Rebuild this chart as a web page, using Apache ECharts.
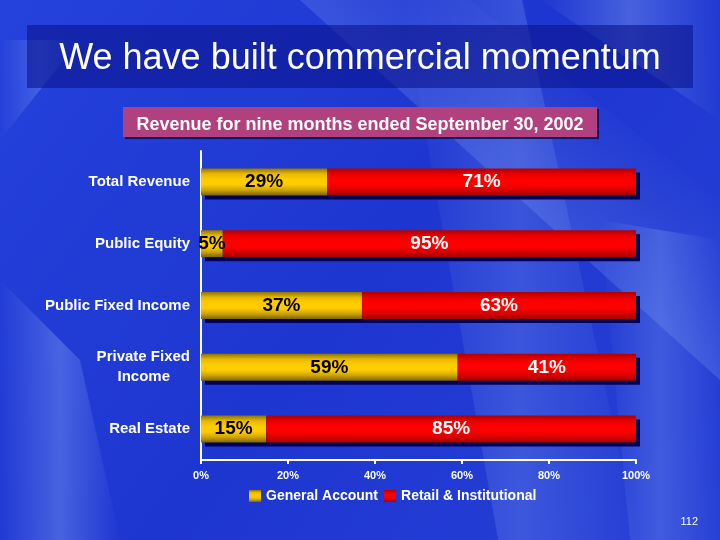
<!DOCTYPE html>
<html><head><meta charset="utf-8">
<script src="https://cdn.jsdelivr.net/npm/echarts@6/dist/echarts.min.js"></script>
<style>html,body{margin:0;padding:0;background:#1c34cc}#c{width:720px;height:540px}</style>
</head><body><div id="c"></div>
<script>
const categories = ['Total Revenue', 'Public Equity', 'Public Fixed Income', 'Private Fixed\nIncome', 'Real Estate'];
const generalAccount = [29, 5, 37, 59, 15];
const retailInstitutional = [71, 95, 63, 41, 85];
const xTicks = [0, 20, 40, 60, 80, 100];
const seriesNames = ['General Account', 'Retail & Institutional'];

const chart = echarts.init(document.getElementById('c'));
const shadow = {textShadowColor: '#000044', textShadowOffsetX: 2, textShadowOffsetY: 2, textShadowBlur: 0};
function vgrad(stops) {
  return new echarts.graphic.LinearGradient(0, 0, 0, 1, stops.map((c, i) => ({offset: i / (stops.length - 1), color: c})));
}
function band(pts, x1, y1, x2, y2, a) {
  return {type: 'polygon', z: -10, shape: {points: pts}, style: {fill: new echarts.graphic.LinearGradient(x1, y1, x2, y2, [
    {offset: 0, color: 'rgba(160,190,255,0)'}, {offset: 0.5, color: 'rgba(165,195,255,' + a + ')'}, {offset: 1, color: 'rgba(160,190,255,0)'}
  ])}};
}
chart.setOption({
  backgroundColor: new echarts.graphic.LinearGradient(0, 0, 1, 1, [
    {offset: 0, color: '#2542dc'}, {offset: 0.5, color: '#1e36d0'}, {offset: 1, color: '#2640d6'}
  ]),
  graphic: [
    band([[300, 0], [470, 0], [720, 200], [720, 380]], 0.1, 0.7, 0.6, 0.1, 0.2),
    band([[400, -10], [520, -10], [640, 550], [500, 550]], 0, 0, 1, 0, 0.2),
    band([[0, 280], [80, 360], [120, 540], [0, 540]], 0, 0, 1, 0, 0.3),
    band([[540, 0], [720, 0], [720, 120]], 0, 0, 1, 0, 0.3),
    band([[600, 220], [720, 240], [720, 540], [630, 540]], 0, 0, 1, 0, 0.22),
    band([[0, 40], [80, 40], [0, 140]], 0, 0, 1, 0, 0.25),
    {type: 'rect', z: -5, shape: {x: 27, y: 25, width: 666, height: 63}, style: {fill: 'rgba(10,20,140,0.6)'}},
    {type: 'rect', z: -5, shape: {x: 123, y: 107, width: 474, height: 30}, style: {fill: '#b0417e', shadowColor: 'rgba(0,0,60,0.7)', shadowOffsetX: 2, shadowOffsetY: 2}},
    {type: 'text', z: 10, right: 22, top: 516, style: {text: '112', fill: '#ffffff', font: '11px "Liberation Sans", Arial, sans-serif'}}
  ],
  title: [
    {text: 'We have built commercial momentum', left: 'center', top: 36,
     textStyle: Object.assign({color: '#ffffff', fontSize: 36, fontWeight: 'normal', fontFamily: '"Liberation Sans", Arial, sans-serif'}, shadow)},
    {text: 'Revenue for nine months ended September 30, 2002', left: 'center', top: 111,
     textStyle: Object.assign({color: '#ffffff', fontSize: 18, fontWeight: 'bold', fontFamily: '"Liberation Sans", Arial, sans-serif'}, shadow)}
  ],
  legend: {
    data: seriesNames, left: 244, top: 484, itemWidth: 12, itemHeight: 12, itemGap: 6,
    icon: 'rect',
    textStyle: Object.assign({color: '#ffffff', fontSize: 14, fontWeight: 'bold', fontFamily: '"Liberation Sans", Arial, sans-serif'}, shadow)
  },
  grid: {left: 201, right: 84, top: 151, bottom: 80, containLabel: false},
  xAxis: {
    type: 'value', min: 0, max: 100, interval: 20,
    axisLine: {show: true, lineStyle: {color: '#ffffff', width: 2}},
    axisTick: {show: true, length: 4, lineStyle: {color: '#ffffff', width: 2}},
    splitLine: {show: false},
    axisLabel: Object.assign({color: '#ffffff', fontSize: 11, fontWeight: 'bold', margin: 10,
      fontFamily: '"Liberation Sans", Arial, sans-serif',
      formatter: v => xTicks.includes(v) ? v + '%' : ''}, shadow)
  },
  yAxis: {
    type: 'category', data: categories, inverse: true,
    axisLine: {show: true, lineStyle: {color: '#ffffff', width: 2}},
    axisTick: {show: false},
    axisLabel: Object.assign({color: '#ffffff', fontSize: 15, fontWeight: 'bold', margin: 11, lineHeight: 20,
      fontFamily: '"Liberation Sans", Arial, sans-serif',
      formatter: v => {
        const parts = v.split('\n');
        return parts.length > 1 ? '{a|' + parts[0] + '}\n{b|' + parts[1] + '}' : v;
      },
      rich: {
        a: Object.assign({color: '#ffffff', fontSize: 15, fontWeight: 'bold', lineHeight: 20, fontFamily: '"Liberation Sans", Arial, sans-serif'}, shadow),
        b: Object.assign({color: '#ffffff', fontSize: 15, fontWeight: 'bold', lineHeight: 20, padding: [0, 20, 0, 0], fontFamily: '"Liberation Sans", Arial, sans-serif'}, shadow)
      }}, shadow)
  },
  series: [
    {name: seriesNames[0], type: 'bar', stack: 'total', data: generalAccount, barWidth: 27,
     itemStyle: {color: vgrad(['#8c7400', '#e8b800', '#ffcc00', '#ffcc00', '#d0a400', '#7a6400']),
       shadowColor: '#000058', shadowOffsetX: 4, shadowOffsetY: 4},
     label: {show: true, position: 'inside', formatter: p => p.value + '%', color: '#000000', fontSize: 19, fontWeight: 'bold',
       fontFamily: '"Liberation Sans", Arial, sans-serif'}},
    {name: seriesNames[1], type: 'bar', stack: 'total', data: retailInstitutional, barWidth: 27,
     itemStyle: {color: vgrad(['#b00000', '#e80000', '#ff0000', '#ff0000', '#d80000', '#a00000']),
       shadowColor: '#000058', shadowOffsetX: 4, shadowOffsetY: 4},
     label: {show: true, position: 'inside', formatter: p => p.value + '%', color: '#ffffff', fontSize: 19, fontWeight: 'bold',
       fontFamily: '"Liberation Sans", Arial, sans-serif'}}
  ]
});
</script></body></html>
